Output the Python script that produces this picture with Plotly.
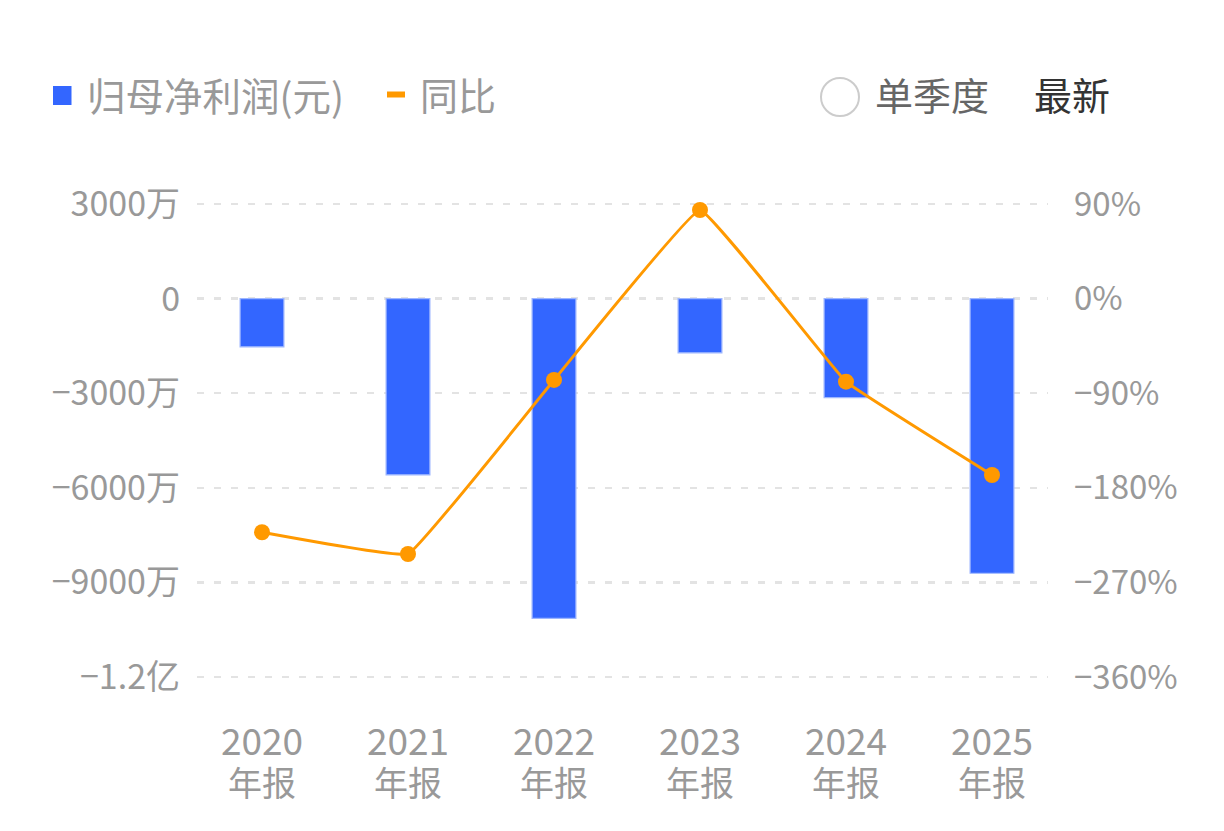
import plotly.graph_objects as go

# ---- data ----
years = ["2020", "2021", "2022", "2023", "2024", "2025"]
period_suffix = "年报"
net_profit = [-15300000, -55900000, -101400000, -17200000, -31400000, -87100000]  # 元
yoy_pct = [-222.3, -243.0, -77.4, 84.3, -79.0, -167.8]  # %

left_tickvals = [30000000, 0, -30000000, -60000000, -90000000, -120000000]
left_ticktext = ["3000万", "0", "−3000万", "−6000万", "−9000万", "−1.2亿"]
right_tickvals = [90, 0, -90, -180, -270, -360]
right_ticktext = ["90%", "0%", "−90%", "−180%", "−270%", "−360%"]

legend_bar_label = "归母净利润(元)"
legend_line_label = "同比"
toggle_label = "单季度"
latest_label = "最新"

# ---- layout geometry (page pixels) ----
PAGE_W, PAGE_H = 1224, 831
OFF = 8  # page body margin
W, H = PAGE_W - 2 * OFF, PAGE_H - 2 * OFF
L, R = 197, 1048
T, B = 150, 715
FONT = "Noto Sans CJK SC"
BLUE = "#3366FF"
ORANGE = "#FF9900"
GRAY = "#999999"


def px(x):
    return (x - L) / (R - L)


def py(y):
    return (B - y) / (B - T)


fig = go.Figure()
fig.add_trace(go.Bar(
    x=years, y=net_profit, width=0.30,
    marker=dict(color=BLUE, line=dict(color="#9DB6FF", width=1.2)),
    name=legend_bar_label, yaxis="y", hoverinfo="skip",
))
fig.add_trace(go.Scatter(
    x=years, y=yoy_pct, mode="lines+markers",
    line=dict(color=ORANGE, width=3, shape="spline", smoothing=0.2),
    marker=dict(color=ORANGE, size=16),
    name=legend_line_label, yaxis="y2", hoverinfo="skip",
))

# year-suffix labels under tick labels
annotations = []
for i, yr in enumerate(years):
    annotations.append(dict(
        x=i, xref="x", y=py(781), yref="paper", text=period_suffix,
        showarrow=False, xanchor="center", yanchor="middle",
        font=dict(family=FONT, size=34, color=GRAY),
    ))

# legend texts
annotations += [
    dict(x=px(85), y=py(94), xref="paper", yref="paper", text=legend_bar_label,
         showarrow=False, xanchor="left", yanchor="middle",
         font=dict(family=FONT, size=38.5, color=GRAY)),
    dict(x=px(418), y=py(94), xref="paper", yref="paper", text=legend_line_label,
         showarrow=False, xanchor="left", yanchor="middle",
         font=dict(family=FONT, size=38, color=GRAY)),
    dict(x=px(873), y=py(94), xref="paper", yref="paper", text=toggle_label,
         showarrow=False, xanchor="left", yanchor="middle",
         font=dict(family=FONT, size=38, color="#666666")),
    dict(x=px(1032), y=py(94), xref="paper", yref="paper", text=latest_label,
         showarrow=False, xanchor="left", yanchor="middle",
         font=dict(family=FONT, size=38, color="#333333")),
]

shapes = [
    # zero reference line (darker dashed)
    dict(type="line", xref="paper", x0=0, x1=1, yref="y", y0=0, y1=0,
         line=dict(color="#9A9A9A", width=3, dash="7px,10px"), layer="between"),
    # legend symbols
    dict(type="rect", xref="paper", yref="paper", x0=px(53), x1=px(71.5),
         y0=py(105), y1=py(86), fillcolor=BLUE, line=dict(width=0)),
    dict(type="rect", xref="paper", yref="paper", x0=px(387), x1=px(405),
         y0=py(97.5), y1=py(91.5), fillcolor=ORANGE, line=dict(width=0)),
    dict(type="circle", xref="paper", yref="paper", x0=px(821), x1=px(859),
         y0=py(116), y1=py(78), fillcolor="white",
         line=dict(color="#CCCCCC", width=2)),
]

y_top = 30000000 + (204 - T) / 94.6 * 30000000
y_bot = -(B - 298.6) / 94.6 * 30000000
y2_top = 90 + (204 - T) / 94.6 * 90
y2_bot = -(B - 298.6) / 94.6 * 90

fig.update_layout(
    width=W, height=H,
    margin=dict(l=L - OFF, r=PAGE_W - OFF - R, t=T - OFF, b=PAGE_H - OFF - B),
    paper_bgcolor="white", plot_bgcolor="white",
    showlegend=False,
    font=dict(family=FONT, color=GRAY),
    xaxis=dict(
        type="category", range=[-(262 - L) / 146, -(262 - L) / 146 + (R - L) / 146],
        showgrid=False, zeroline=False, showline=False, ticks="",
        tickfont=dict(family=FONT, size=37, color=GRAY), ticklabelstandoff=2,
        fixedrange=True,
    ),
    yaxis=dict(
        range=[y_bot, y_top], tickvals=left_tickvals, ticktext=left_ticktext,
        showgrid=True, gridcolor="#E3E3E3", gridwidth=2.5, griddash="7px,10px",
        zeroline=False, showline=False, ticks="", ticklabelstandoff=16,
        tickfont=dict(family=FONT, size=34, color=GRAY),
    ),
    yaxis2=dict(
        range=[y2_bot, y2_top], tickvals=right_tickvals, ticktext=right_ticktext,
        overlaying="y", side="right", showgrid=False, zeroline=False,
        showline=False, ticks="", ticklabelstandoff=25,
        tickfont=dict(family=FONT, size=33, color=GRAY),
    ),
    annotations=annotations,
    shapes=shapes,
    bargap=0.7,
)

fig.write_html("out.html", config={"displayModeBar": False, "staticPlot": True})
